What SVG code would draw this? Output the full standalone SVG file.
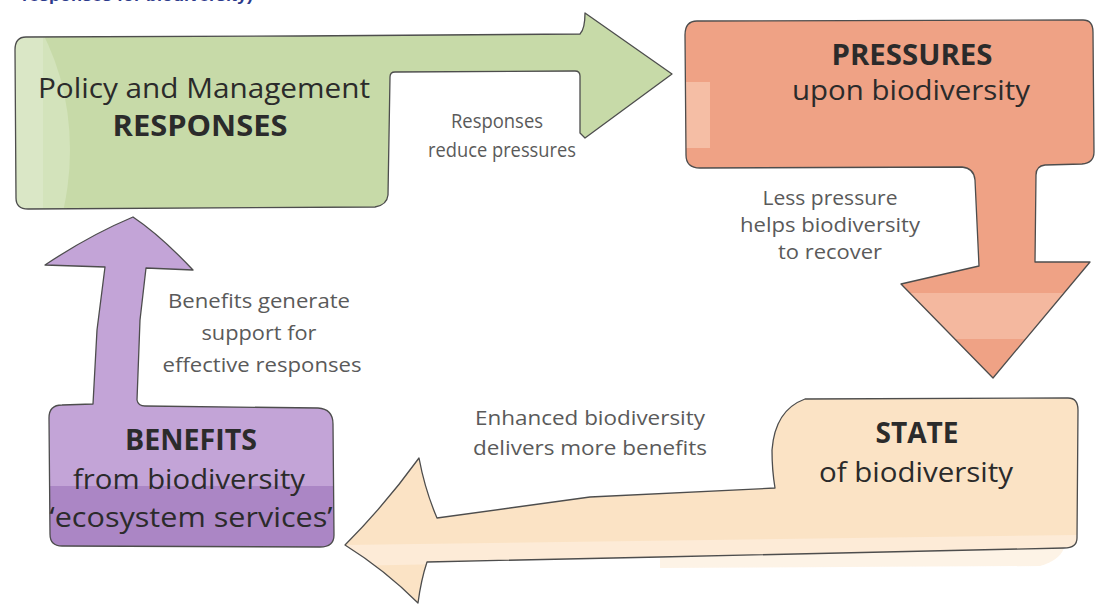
<svg xmlns="http://www.w3.org/2000/svg" width="1106" height="606" viewBox="0 0 1106 606">
<style>
.outline{fill:none;stroke:#4d4d4d;stroke-width:1.3;stroke-linejoin:round;stroke-linecap:round}
.title{font-family:"Open Sans","Noto Sans","Liberation Sans",sans-serif;font-size:28px;fill:#2b2b2b}
.bold{font-weight:bold}
.label{font-family:"Open Sans","Noto Sans","Liberation Sans",sans-serif;font-size:20px;fill:#5a5a5a;text-anchor:middle}
.mid{text-anchor:middle}
</style>
<defs>
<path id="pGreen" d="M26,37 L300,36 L580,34 C584,30 585,20 585,13 L672,74 L585,138 L580,133 L580,76 Q580,71 575,71 L395,72 Q390,72 390,77 L388,195 Q387,205 375,207 L28,209 Q16,209 16,198 L15,50 Q15,37 26,37 Z"/>
<path id="pSalmon" d="M697,21 L1083,20 Q1093,20 1093,32 L1094,152 Q1094,163 1082,164 L1045,165 Q1036,166 1036,175 L1035,262 L1090,262 L993,378 L901,284 L979,266 L975,180 Q974,168 962,167 L700,168 Q686,168 686,155 L685,35 Q685,21 697,21 Z"/>
<path id="pPeach" d="M805,399 L1068,398 Q1078,398 1078,410 L1077,538 Q1077,548 1064,548 L660,557 L427,562 Q421,580 418,603 Q385,570 345,545 Q385,505 419,458 Q425,490 437,518 L590,497 L775,488 Q772,470 772,450 Q775,410 805,399 Z"/>
<path id="pPurple" d="M133,217 Q160,235 193,270 L146,268 L140,320 L137,400 Q138,406 145,406 L318,408 Q333,409 333,424 L334,535 Q334,547 320,547 L62,546 Q50,546 50,534 L49,418 Q49,405 62,405 L93,404 L97,330 L105,267 L45,265 Q90,235 133,217 Z"/>
<clipPath id="cGreen"><use href="#pGreen"/></clipPath>
<clipPath id="cSalmon"><use href="#pSalmon"/></clipPath>
<clipPath id="cPeach"><use href="#pPeach"/></clipPath>
<clipPath id="cPurple"><use href="#pPurple"/></clipPath>
</defs>
<rect width="1106" height="606" fill="#ffffff"/>
<text x="22" y="1" font-family="'Liberation Sans',sans-serif" font-weight="bold" font-size="17" fill="#2d3a8c" textLength="231" lengthAdjust="spacingAndGlyphs">responses for biodiversity)</text>

<g id="responses">
<use href="#pGreen" fill="#c7daa8"/>
<g clip-path="url(#cGreen)">
<ellipse cx="-60" cy="150" rx="130" ry="190" fill="#d3e3bb"/>
<rect x="15" y="36" width="28" height="175" fill="#dae7c6"/>
</g>
<use href="#pGreen" class="outline"/>
<text class="title" x="38" y="98" textLength="332" lengthAdjust="spacingAndGlyphs">Policy and Management</text>
<text class="title bold mid" x="200" y="136" textLength="175" lengthAdjust="spacingAndGlyphs">RESPONSES</text>
</g>

<g id="pressures">
<use href="#pSalmon" fill="#efa285"/>
<g clip-path="url(#cSalmon)">
<rect x="686" y="82" width="24" height="66" fill="#f5bea5"/>
<rect x="890" y="293" width="210" height="46" fill="#f4b89f"/>
</g>
<use href="#pSalmon" class="outline"/>
<text class="title bold mid" x="912" y="65" textLength="161" lengthAdjust="spacingAndGlyphs">PRESSURES</text>
<text class="title mid" x="911" y="100" textLength="238" lengthAdjust="spacingAndGlyphs">upon biodiversity</text>
</g>

<g id="state">
<path d="M660,557 L1064,548 Q1060,560 1040,566 L660,568 Z" fill="#fcebd6" opacity="0.6"/>
<use href="#pPeach" fill="#fbe3c5"/>
<g clip-path="url(#cPeach)">
<path d="M340,545 L1080,535 L1080,552 L340,566 Z" fill="#fdebd7"/>
</g>
<use href="#pPeach" class="outline"/>
<text class="title bold mid" x="917" y="443" textLength="83" lengthAdjust="spacingAndGlyphs">STATE</text>
<text class="title mid" x="916" y="482" textLength="194" lengthAdjust="spacingAndGlyphs">of biodiversity</text>
</g>

<g id="benefits">
<use href="#pPurple" fill="#c3a4d7"/>
<g clip-path="url(#cPurple)">
<rect x="40" y="486" width="300" height="65" fill="#ab86c5"/>
</g>
<use href="#pPurple" class="outline"/>
<text class="title bold mid" x="191" y="450" textLength="132" lengthAdjust="spacingAndGlyphs">BENEFITS</text>
<text class="title mid" x="189" y="489" textLength="232" lengthAdjust="spacingAndGlyphs">from biodiversity</text>
<text class="title mid" x="191" y="527" textLength="283" lengthAdjust="spacingAndGlyphs">‘ecosystem services’</text>
</g>

<g id="connectors">
<text class="label" x="497" y="128" textLength="92" lengthAdjust="spacingAndGlyphs">Responses</text>
<text class="label" x="502" y="157" textLength="148" lengthAdjust="spacingAndGlyphs">reduce pressures</text>
<text class="label" x="830" y="205" textLength="135" lengthAdjust="spacingAndGlyphs">Less pressure</text>
<text class="label" x="830" y="232" textLength="180" lengthAdjust="spacingAndGlyphs">helps biodiversity</text>
<text class="label" x="830" y="259" textLength="104" lengthAdjust="spacingAndGlyphs">to recover</text>
<text class="label" x="590" y="425" textLength="230" lengthAdjust="spacingAndGlyphs">Enhanced biodiversity</text>
<text class="label" x="590" y="455" textLength="234" lengthAdjust="spacingAndGlyphs">delivers more benefits</text>
<text class="label" x="259" y="308" textLength="182" lengthAdjust="spacingAndGlyphs">Benefits generate</text>
<text class="label" x="259" y="340" textLength="115" lengthAdjust="spacingAndGlyphs">support for</text>
<text class="label" x="262" y="372" textLength="199" lengthAdjust="spacingAndGlyphs">effective responses</text>
</g>
</svg>
